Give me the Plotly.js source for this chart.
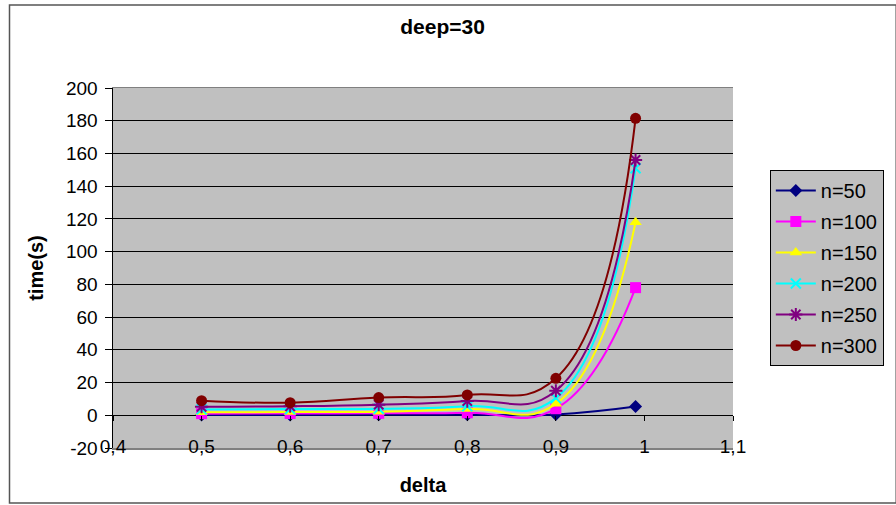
<!DOCTYPE html>
<html>
<head>
<meta charset="utf-8">
<script src="https://cdn.plot.ly/plotly-3.0.1.min.js"></script>
<style>html,body{margin:0;padding:0;background:#fff;}#chart{width:896px;height:505px;}</style>
</head>
<body>
<div id="chart"></div>
<script>
const delta = [0.5, 0.6, 0.7, 0.8, 0.9, 0.99];
const n50  = [0.2, 0.2, 0.3, 0.3, 0.5, 5.3];
const n100 = [1.0, 1.1, 1.2, 1.5, 4.0, 78];
const n150 = [1.8, 2.0, 2.2, 3.8, 7.0, 118];
const n200 = [3.6, 3.8, 4.0, 5.5, 10.5, 151];
const n250 = [5.2, 5.5, 6.5, 8.7, 15.0, 156];
const n300 = [8.9, 7.7, 10.8, 12.4, 22.6, 181.5];
const seriesNames = ['n=50', 'n=100', 'n=150', 'n=200', 'n=250', 'n=300'];
const xTicks = [0.4, 0.5, 0.6, 0.7, 0.8, 0.9, 1.0, 1.1];
const xTickLabels = ['0,4', '0,5', '0,6', '0,7', '0,8', '0,9', '1', '1,1'];
const yTicks = [-20, 0, 20, 40, 60, 80, 100, 120, 140, 160, 180, 200];
const yTickLabels = ['-20', '0', '20', '40', '60', '80', '100', '120', '140', '160', '180', '200'];

const seriesValues = [n50, n100, n150, n200, n250, n300];
const colors = ['#000080', '#FF00FF', '#FFFF00', '#00FFFF', '#800080', '#800000'];
const symbols = ['diamond', 'square', 'triangle-up', 'x-thin-open', 'asterisk-open', 'circle'];
const msizes = [10, 11, 11, 10, 11, 11];

const traces = seriesValues.map((vals, i) => ({
  x: delta, y: vals, type: 'scatter', mode: 'lines+markers',
  name: seriesNames[i], legendgroup: 'g' + i,
  line: {color: colors[i], width: 2, shape: 'spline', smoothing: 1.3},
  marker: {symbol: symbols[i], size: msizes[i], color: colors[i],
           line: {color: colors[i], width: (symbols[i].indexOf('open') >= 0 ? 2 : 0)}}
}));
traces.push({x: [xTicks[0]], y: [0], xaxis: 'x2', type: 'scatter', mode: 'none', showlegend: false, hoverinfo: 'skip'});

const layout = {
  width: 896, height: 505,
  margin: {l: 113, r: 160, t: 88, b: 57},
  paper_bgcolor: '#FFFFFF', plot_bgcolor: '#C0C0C0',
  font: {family: 'Liberation Sans, Arial, sans-serif', color: '#000', size: 19},
  title: {text: '<b>deep=30</b>', x: 0.494, xanchor: 'center', y: 0.947, yanchor: 'middle',
          font: {size: 21, family: 'Liberation Sans, Arial, sans-serif'}},
  xaxis: {
    range: [0.4, 1.1], tickvals: xTicks, ticktext: xTickLabels,
    showgrid: false, zeroline: false, showline: true, linecolor: '#808080', linewidth: 1.5,
    mirror: true, ticks: '', ticklabelstandoff: -19,
    tickfont: {size: 19},
    title: {text: '<b>delta</b>', standoff: 21, font: {size: 20}}
  },
  xaxis2: {
    overlaying: 'x', matches: 'x', anchor: 'free', position: 20 / 220,
    range: [0.4, 1.1], tickvals: xTicks, showticklabels: false, showgrid: false, zeroline: false,
    showline: false, ticks: 'outside', ticklen: 5, tickcolor: '#000', tickwidth: 1
  },
  yaxis: {
    range: [-20, 200], tickvals: yTicks, ticktext: yTickLabels,
    showgrid: true, gridcolor: '#000000', gridwidth: 1,
    zeroline: true, zerolinecolor: '#000000', zerolinewidth: 1,
    showline: true, linecolor: '#000000', linewidth: 1.5,
    ticks: 'outside', ticklen: 7, tickcolor: '#000', ticklabelstandoff: 3,
    tickfont: {size: 19},
    title: {text: '<b>time(s)</b>', standoff: 17, font: {size: 20}}
  },
  legend: {
    x: (773 - 113) / 623, xanchor: 'left', y: (448 - 268) / 360, yanchor: 'middle',
    bgcolor: '#C0C0C0', bordercolor: '#000000', borderwidth: 1,
    font: {size: 20}, tracegroupgap: 2, itemwidth: 40
  },
  shapes: [{
    type: 'rect', xref: 'paper', yref: 'paper',
    x0: (9 - 113) / 623, x1: (900 - 113) / 623,
    y0: (448 - 503) / 360, y1: (448 - 5) / 360,
    line: {color: '#555555', width: 1.5}, fillcolor: 'rgba(0,0,0,0)', layer: 'below'
  }],
  showlegend: true
};

Plotly.newPlot('chart', traces, layout, {displayModeBar: false, staticPlot: true});
</script>
</body>
</html>
